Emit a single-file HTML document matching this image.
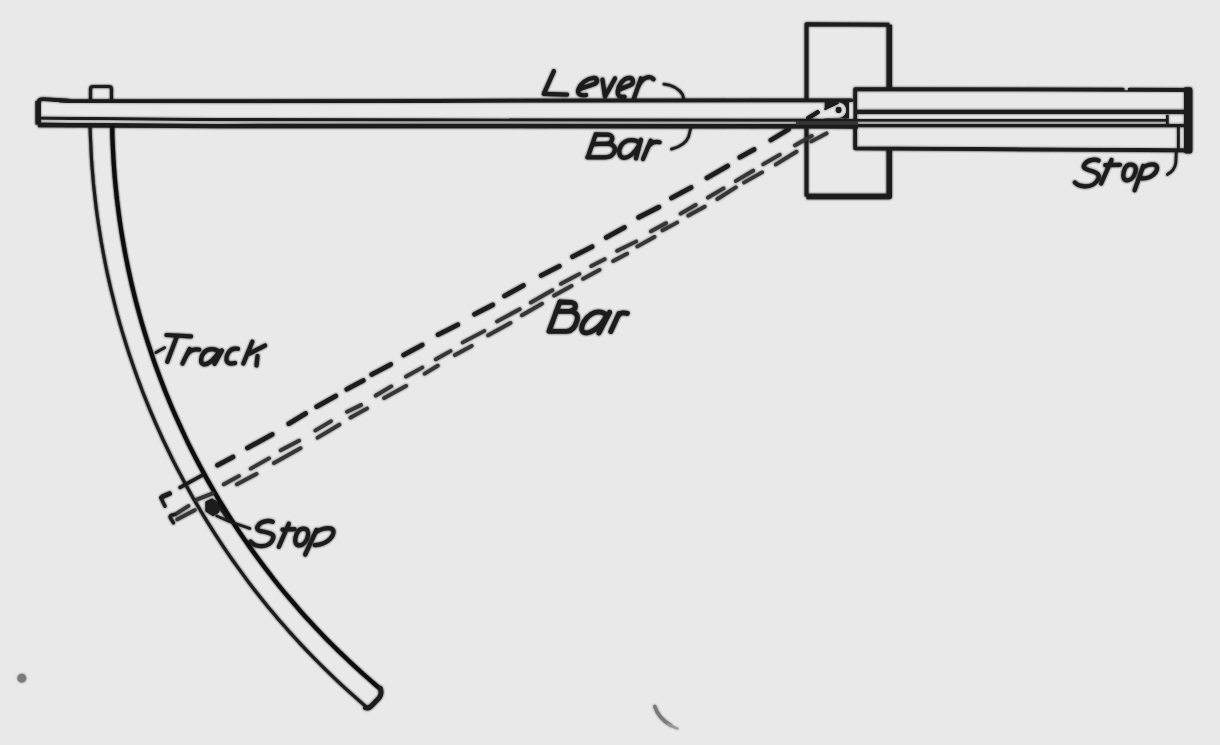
<!DOCTYPE html>
<html><head><meta charset="utf-8"><title>Lever and track diagram</title>
<style>
html,body{margin:0;padding:0;background:#e9e9e9;}
body{width:1220px;height:745px;overflow:hidden;font-family:"Liberation Sans",sans-serif;}
svg{display:block;}
</style></head><body>
<svg width="1220" height="745" viewBox="0 0 1220 745">
<defs><filter id="soft" x="-5%" y="-5%" width="110%" height="110%"><feGaussianBlur in="SourceGraphic" stdDeviation="1.0" result="b"/><feBlend in="SourceGraphic" in2="b" mode="darken"/></filter></defs>
<rect width="1220" height="745" fill="#e9e9e9"/>
<g filter="url(#soft)">
<path d="M806.5,196.4 L806.5,24.3 L889.3,24.8" stroke="#1e1e1e" stroke-width="3.96" fill="none" stroke-linejoin="round"/>
<path d="M889.3,24.8 L889.3,196.4 L806.5,196.4" stroke="#1e1e1e" stroke-width="5.46" fill="none" stroke-linejoin="round"/>
<path d="M855.3,89.3 L1188,89.9 L1188,150.3 L855.3,148.2 Z" fill="#e9e9e9" stroke="#1e1e1e" stroke-width="4.05" stroke-linejoin="round"/>
<path d="M855.5,111.9 L1186,111.9" stroke="#1e1e1e" stroke-width="4.93" fill="none"/>
<path d="M855.5,120.3 L1167.4,120.3" stroke="#1e1e1e" stroke-width="2.73" fill="none"/>
<path d="M855.5,125.6 L1186,125.6" stroke="#1e1e1e" stroke-width="3.78" fill="none"/>
<path d="M1167.4,115 L1167.4,125" stroke="#1e1e1e" stroke-width="2.82" fill="none"/>
<path d="M1178.3,127 L1178.3,150" stroke="#1e1e1e" stroke-width="3.17" fill="none"/>
<path d="M1183.8,88.5 Q1184,87.3 1186,87.3 L1190.5,87.3 Q1192.4,87.5 1192.4,90 L1192.4,151 Q1192.2,153.6 1190,153.6 L1186,153.6 Q1183.8,153.4 1183.8,151 Z" fill="#1e1e1e"/>
<rect x="1124.6" y="86" width="3.2" height="4.2" fill="#e9e9e9"/>
<path d="M38,100 L851,100.3 L851,126.2 L38,125 Z" fill="#e9e9e9"/>
<path d="M60,100.4 L70,100.9 L220,101.3 L430,100.9 L851,100.4" stroke="#1e1e1e" stroke-width="4.05" fill="none" stroke-linecap="round"/>
<path d="M40,118.2 L220,119.6 L430,119.9 L820,120.2 L858,120.4" stroke="#1e1e1e" stroke-width="3.17" fill="none"/>
<path d="M38,124.8 L220,126 L430,125.8 L820,126.2 L858,126.3" stroke="#1e1e1e" stroke-width="4.75" fill="none"/>
<path d="M70,100.9 L44,99.3 Q38.3,98.9 38.3,103 L38.3,121 Q38.3,124.8 43.5,124.7 L70,124.9" stroke="#1e1e1e" stroke-width="4.05" fill="none" stroke-linejoin="round"/>
<path d="M38.2,101 L38.2,124.5" stroke="#1e1e1e" stroke-width="5.63" fill="none"/>
<path d="M796,121 L858,121.3 L858,124.8 L796,124.7 Z" fill="#383838"/>
<path d="M90.5,100 L90.5,89 Q90.5,86.5 93,86.5 L109,86.5 Q111.5,86.5 111.5,89 L111.5,100" stroke="#1e1e1e" stroke-width="3.17" fill="none"/>
<path d="M90.1,126.0 L90.3,134.3 L90.7,142.6 L91.1,150.9 L91.5,159.2 L92.1,167.4 L92.8,175.7 L93.5,184.0 L94.4,192.2 L95.3,200.5 L96.3,208.7 L97.4,216.9 L98.6,225.1 L99.9,233.3 L101.2,241.5 L102.7,249.7 L104.2,257.8 L105.8,266.0 L107.5,274.1 L109.3,282.2 L111.2,290.3 L113.2,298.3 L115.2,306.4 L117.3,314.4 L119.5,322.4 L121.8,330.4 L124.2,338.3 L126.7,346.2 L129.2,354.1 L131.9,362.0 L134.6,369.8 L137.4,377.7 L140.3,385.4 L143.2,393.2 L146.3,400.9 L149.4,408.6 L152.6,416.2 L155.9,423.9 L159.3,431.4 L162.7,439.0 L166.3,446.5 L169.9,454.0 L173.5,461.4 L177.3,468.8 L181.2,476.1 L185.1,483.5 L189.1,490.7 L193.1,498.0 L197.3,505.1 L201.5,512.3 L205.8,519.4 L210.2,526.4 L214.6,533.4 L219.2,540.4 L223.8,547.3 L228.4,554.1 L233.2,561.0 L238.0,567.7 L242.9,574.4 L247.8,581.1 L252.8,587.7 L257.9,594.2 L263.1,600.7 L268.3,607.2 L273.6,613.5 L279.0,619.9 L284.4,626.1 L289.9,632.4 L295.5,638.5 L301.1,644.6 L306.8,650.6 L312.6,656.6 L318.4,662.5 L324.3,668.4 L330.2,674.2 L336.2,679.9 L342.3,685.6 L348.4,691.2 L354.6,696.7 L360.8,702.2 L367.1,707.6" stroke="#1c1c1c" stroke-width="3.08" fill="none"/>
<path d="M112.2,126.0 L112.3,134.0 L112.6,142.1 L113.0,150.1 L113.4,158.1 L113.9,166.1 L114.5,174.1 L115.2,182.2 L116.0,190.1 L116.8,198.1 L117.8,206.1 L118.8,214.1 L119.9,222.0 L121.1,230.0 L122.4,237.9 L123.8,245.8 L125.2,253.7 L126.8,261.6 L128.4,269.5 L130.1,277.3 L131.9,285.2 L133.8,293.0 L135.7,300.8 L137.8,308.5 L139.9,316.3 L142.1,324.0 L144.4,331.7 L146.8,339.4 L149.3,347.0 L151.8,354.7 L154.4,362.3 L157.1,369.8 L159.9,377.4 L162.8,384.9 L165.7,392.4 L168.7,399.8 L171.8,407.2 L175.0,414.6 L178.3,421.9 L181.6,429.2 L185.0,436.5 L188.5,443.8 L192.1,451.0 L195.7,458.1 L199.5,465.2 L203.3,472.3 L207.1,479.3 L211.1,486.3 L215.1,493.3 L219.2,500.2 L223.4,507.1 L227.6,513.9 L231.9,520.7 L236.3,527.4 L240.8,534.1 L245.3,540.7 L249.9,547.3 L254.6,553.8 L259.4,560.3 L264.2,566.7 L269.1,573.1 L274.0,579.5 L279.0,585.7 L284.1,592.0 L289.3,598.1 L294.5,604.2 L299.8,610.3 L305.1,616.3 L310.5,622.2 L316.0,628.1 L321.5,633.9 L327.1,639.7 L332.8,645.4 L338.5,651.0 L344.3,656.6 L350.1,662.1 L356.0,667.6 L362.0,673.0 L368.0,678.3 L374.1,683.6 L380.2,688.8" stroke="#111111" stroke-width="4.14" fill="none"/>
<path d="M365.5,707.8 Q368.5,708.8 371,706.3 L379.6,697.3 Q382.2,693 380.3,688.2" stroke="#1e1e1e" stroke-width="4.75" fill="none" stroke-linejoin="round" stroke-linecap="round"/>
<path d="M162.6,496.7 L169.6,493.7 M217.5,465.2 L233.0,457.0 M247.4,448.0 L272.2,434.4 M288.8,423.7 L305.6,413.5 M316.6,406.7 L335.8,396.0 M346.8,389.3 L363.3,380.5 M371.7,374.5 L390.7,364.4 M403.6,355.0 L422.2,344.9 M438.0,334.7 L457.8,324.7 M474.5,314.3 L492.8,304.9 M504.5,295.9 L523.4,285.5 M541.1,275.5 L559.3,266.2 M572.5,256.8 L592.1,246.7 M606.2,237.5 L624.4,227.4 M638.6,217.4 L658.9,207.1 M671.5,198.0 L691.1,187.5 M706.9,177.9 L727.7,165.9 M739.8,157.3 L754.1,149.5 M770.8,140.1 L788.6,129.4 M808.3,118.0 L817.6,112.2 M827.4,107.6 L831.5,105.4" stroke="#1e1e1e" stroke-width="4.58" fill="none" stroke-linecap="round"/>
<path d="M175.9,514.0 L188.5,505.9 M196.4,499.8 L213.1,493.3 M223.7,484.3 L239.0,476.0 M250.6,468.7 L269.1,458.3 M280.6,450.4 L299.2,440.6 M315.3,430.5 L331.0,421.2 M346.9,411.8 L361.1,405.0 M375.7,395.6 L391.4,386.3 M405.9,376.6 L422.4,367.5 M435.7,359.3 L450.6,351.0 M462.6,342.5 L484.3,331.0 M496.9,321.5 L519.8,309.2 M530.7,302.6 L552.5,290.1 M560.8,283.8 L579.4,274.0 M591.2,266.1 L604.8,259.2 M617.0,250.8 L636.2,241.5 M650.8,231.3 L666.1,223.1 M680.5,213.7 L695.8,204.9 M707.9,197.6 L723.7,188.3 M735.8,181.0 L753.3,170.6 M763.2,164.3 L779.8,154.7 M794.9,145.3 L811.8,135.9" stroke="#363636" stroke-width="3.61" fill="none" stroke-linecap="round"/>
<path d="M177.2,519.3 L194.8,510.1 M236.8,484.3 L256.6,473.8 M273.8,463.2 L300.6,448.2 M317.5,437.8 L339.5,424.6 M350.4,417.7 L367.1,408.5 M384.0,398.2 L406.2,385.8 M424.6,373.7 L437.9,365.6 M454.8,355.2 L471.8,345.8 M488.0,335.4 L510.6,322.9 M521.8,315.4 L542.1,303.6 M554.0,295.6 L571.6,285.9 M583.0,278.9 L599.6,269.8 M613.1,261.1 L627.2,253.7 M637.3,246.5 L654.6,236.9 M662.4,230.3 L677.2,222.5 M688.2,215.7 L704.8,206.6 M717.2,199.1 L735.9,187.3 M744.0,182.5 L762.2,172.3 M775.7,164.5 L796.6,151.6 M811.2,141.5 L826.6,133.3" stroke="#363636" stroke-width="3.61" fill="none" stroke-linecap="round"/>
<path d="M180,487.5 L202.6,475" stroke="#1e1e1e" stroke-width="3.34" fill="none" stroke-linecap="round"/>
<path d="M160.7,497.6 L165,506.2" stroke="#1e1e1e" stroke-width="3.34" fill="none" stroke-linecap="round"/>
<path d="M175,514.5 Q169,515 170.4,518 L173.5,522.8" stroke="#1e1e1e" stroke-width="3.34" fill="none" stroke-linecap="round"/>
<path d="M824.5,99.5 L849,99.5 L849,118.6 L824.5,118.6 Z" fill="#1e1e1e"/>
<path d="M818,118.2 L824.5,110 L838.6,102.6 A7.6,7.6 0 0 1 838.6,117.8 L818,118.2 Z" fill="#e9e9e9"/>
<path d="M824.5,109.5 L838.6,102.8" stroke="#1e1e1e" stroke-width="1.94" fill="none"/>
<circle cx="838.6" cy="109.9" r="3.1" fill="#1e1e1e"/>
<rect x="849.2" y="102.5" width="3.8" height="16" fill="#e9e9e9"/>
<path d="M206,502 L212,499 L219.5,504.5 L218.5,512 L213,515.5 L206,511 Z" fill="#1e1e1e" stroke="#1e1e1e" stroke-width="1.32" stroke-linejoin="round"/>
<path d="M216.6,515.9 L229.5,521.5 L250,528.5 M215,501.5 L222,511 L229.5,521.5" stroke="#1e1e1e" stroke-width="2.46" fill="none" stroke-linecap="round" stroke-linejoin="round"/>
<path d="M654.8,706.5 C657,713.5 663,721 671,725.5" stroke="#7a7a7a" stroke-width="3.52" fill="none" stroke-linecap="round"/>
<path d="M668,724 C672,726.5 675,727.8 677.5,728.5" stroke="#9a9a9a" stroke-width="2.29" fill="none" stroke-linecap="round"/>
<circle cx="21.8" cy="678.2" r="4.4" fill="#7a7a7a"/>
<path d="M553.8,71.3 L543.8,93.8 L567,94.6" stroke="#1e1e1e" stroke-width="4.22" fill="none" stroke-linecap="round" stroke-linejoin="round"/>
<path d="M580.5,88.8 L594.5,84 C598,82.5 598,77.5 593,78 C587,78.5 580.5,83.5 578.5,89 C577,93.5 579.5,96 586,95" stroke="#1e1e1e" stroke-width="4.22" fill="none" stroke-linecap="round" stroke-linejoin="round"/>
<path d="M602.5,79.7 L605,96.5 L615,78.4" stroke="#1e1e1e" stroke-width="4.22" fill="none" stroke-linecap="round" stroke-linejoin="round"/>
<path d="M619.5,89.5 L630.5,85 C634,83.5 634,77.5 629,77.8 C623,78.3 618.5,85 617.8,91 C617.3,95.5 619.5,97.5 624.5,96.8" stroke="#1e1e1e" stroke-width="4.22" fill="none" stroke-linecap="round" stroke-linejoin="round"/>
<path d="M640.9,78.4 L633.5,99.7 M638.2,86.5 C641,80.5 645,77.5 648.3,77.2 C651,77 652.5,78 653.6,79.2" stroke="#1e1e1e" stroke-width="4.22" fill="none" stroke-linecap="round" stroke-linejoin="round"/>
<path d="M663.9,84.1 C672,85 679,89 682.5,94.5 L684,99.5" stroke="#1e1e1e" stroke-width="2.64" fill="none" stroke-linecap="round" stroke-linejoin="round"/>
<path d="M595.7,134.4 L587.9,157 M595.7,134.4 L607.5,134.6 C614.5,134.5 613.5,143.2 606.5,143.7 L594.5,144.2 M606.5,143.7 C614,144 616,148 614.5,151.5 C613,155.5 610,157.4 604.5,157.4 L587.4,157.4" stroke="#1e1e1e" stroke-width="4.22" fill="none" stroke-linecap="round" stroke-linejoin="round"/>
<path d="M639.5,143 C636,139 626,138.5 621.5,145 C617.5,151 619,157.5 624,157.8 C629,158 634.5,153 639.5,144.5 M641,139.7 L636,158.4" stroke="#1e1e1e" stroke-width="4.22" fill="none" stroke-linecap="round" stroke-linejoin="round"/>
<path d="M650.8,140.7 L643,159 M647.5,148 C650,143 654,141 659.6,142.2" stroke="#1e1e1e" stroke-width="4.22" fill="none" stroke-linecap="round" stroke-linejoin="round"/>
<path d="M671.4,149.1 C680,147 686,143 688.5,137 L690.8,128" stroke="#1e1e1e" stroke-width="2.64" fill="none" stroke-linecap="round" stroke-linejoin="round"/>
<path d="M1098.6,160.5 C1094.5,158.6 1087,160 1084.6,164.3 C1082,168 1086,169.5 1090,170.5 C1096,172 1100,174 1098.4,178.5 C1096,184 1090,186.5 1084.5,186.3 C1080,186 1076.5,184.5 1074.8,182.4" stroke="#1e1e1e" stroke-width="4.22" fill="none" stroke-linecap="round" stroke-linejoin="round"/>
<path d="M1111.5,160 L1101.2,183.5 M1105.3,165.2 L1120,164.8" stroke="#1e1e1e" stroke-width="4.22" fill="none" stroke-linecap="round" stroke-linejoin="round"/>
<path d="M1130.3,164.7 C1135,164.6 1136.8,167.5 1135.3,172.5 C1133.7,177.8 1130,180.5 1127,180.4 C1123.5,180.3 1122.6,176.5 1123.8,171.5 C1125,167 1127.2,164.8 1130.3,164.7 Z" stroke="#1e1e1e" stroke-width="4.22" fill="none" stroke-linecap="round" stroke-linejoin="round"/>
<path d="M1143.2,166 L1134.6,190.3 M1142.5,168 C1146,165 1152,163.5 1155.5,165 C1158.5,167 1157,172 1153,175 C1150,177.5 1145,178.5 1141.7,178.4" stroke="#1e1e1e" stroke-width="4.22" fill="none" stroke-linecap="round" stroke-linejoin="round"/>
<path d="M1167.3,174.5 C1172,172 1175,168 1175.8,163 L1176.3,151" stroke="#1e1e1e" stroke-width="2.64" fill="none" stroke-linecap="round" stroke-linejoin="round"/>
<path d="M559.8,302 L549,331.3 M559.8,302 L571.5,302.3 C576.5,302.8 577.5,309.5 570,311.2 L556,311.4 M570,311.2 C576.5,312 578.5,316 577,320.5 C575.5,326 572.5,331 567,331.3 L549,331.3" stroke="#1e1e1e" stroke-width="4.84" fill="none" stroke-linecap="round" stroke-linejoin="round"/>
<path d="M607,316.5 C605,311.5 597.5,310.5 591.5,314 C585,318 580.5,326 582,330.5 C583.5,334.5 590,333 595,329.5 C600,326 604.5,320 607,315 M609.6,312.4 L599,333" stroke="#1e1e1e" stroke-width="4.84" fill="none" stroke-linecap="round" stroke-linejoin="round"/>
<path d="M619,313.5 L610.8,331.5 M616.8,318 C618.5,314.5 620.5,313 622.6,312.9 C624.5,312.8 626,313 627.3,313.4" stroke="#1e1e1e" stroke-width="4.84" fill="none" stroke-linecap="round" stroke-linejoin="round"/>
<path d="M166.5,335 L191,336.3" stroke="#1e1e1e" stroke-width="4.22" fill="none" stroke-linecap="round" stroke-linejoin="round"/>
<path d="M176.5,337.5 L167.3,361.8" stroke="#1e1e1e" stroke-width="4.22" fill="none" stroke-linecap="round" stroke-linejoin="round"/>
<path d="M189.6,349 L182.5,363.5 M187.2,354.5 C190,350.5 194,349 199.2,349.6" stroke="#1e1e1e" stroke-width="4.22" fill="none" stroke-linecap="round" stroke-linejoin="round"/>
<path d="M218.5,351.5 C215.5,348.5 208,348 204,352.5 C200.5,356.5 199.8,363.5 203.5,364.3 C208,365 214,359.5 219.5,351.5 M222,350.5 L214.6,363.8" stroke="#1e1e1e" stroke-width="4.22" fill="none" stroke-linecap="round" stroke-linejoin="round"/>
<path d="M238,348.8 C234,348 230.5,349.5 228.8,352 C226.3,355.5 225.7,360 227.3,362 C229,363.8 232,363.8 235,363" stroke="#1e1e1e" stroke-width="4.22" fill="none" stroke-linecap="round" stroke-linejoin="round"/>
<path d="M252.3,341.8 L243.4,363.5 M265,345.5 L249.5,353.5 M257.5,356 L256.5,365.5" stroke="#1e1e1e" stroke-width="4.22" fill="none" stroke-linecap="round" stroke-linejoin="round"/>
<path d="M155.9,352.5 L164.7,347.6" stroke="#1e1e1e" stroke-width="2.64" fill="none" stroke-linecap="round" stroke-linejoin="round"/>
<path d="M272.6,521.8 C268.5,520 261,521.3 258.6,525 C255,529 259,531 262,531.3 C268,532.5 274,534 273.4,537.5 C272,543.5 267,546.2 262,546.2 C257,546.2 253,544.5 250.5,541.6" stroke="#1e1e1e" stroke-width="4.22" fill="none" stroke-linecap="round" stroke-linejoin="round"/>
<path d="M288.8,523.8 L278.8,546.8 M282.5,529.6 L294.5,529.1" stroke="#1e1e1e" stroke-width="4.22" fill="none" stroke-linecap="round" stroke-linejoin="round"/>
<path d="M303,528.7 C307.5,528.6 308.8,531.5 308,535.5 C306.8,541 303.5,545.4 299.5,545.4 C295.8,545.4 294.6,542 295.4,538 C296.6,532.5 299,528.8 303,528.7 Z" stroke="#1e1e1e" stroke-width="4.22" fill="none" stroke-linecap="round" stroke-linejoin="round"/>
<path d="M316.5,530 L305.2,554.5 M316,532 C320,529 327,527.5 331,528.5 C335,530 334,535 330,539 C326,543 320,545 314.8,545.1" stroke="#1e1e1e" stroke-width="4.22" fill="none" stroke-linecap="round" stroke-linejoin="round"/>
</g>
</svg>
</body></html>
